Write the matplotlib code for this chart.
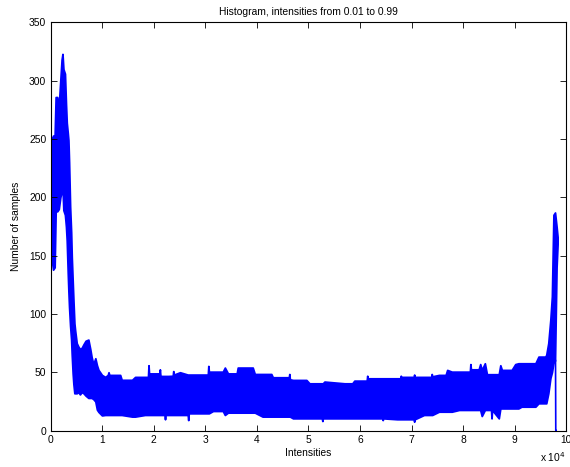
#!/usr/bin/env python3
"""Histogram of intensities (0.01 to 0.99), MATLAB-style dense line plot."""

import matplotlib
matplotlib.use("Agg")
import matplotlib.pyplot as plt

plt.rcParams["font.family"] = ["Liberation Sans", "DejaVu Sans"]

# ---------------------------------------------------------------------------
# Data: envelope of the noisy histogram
# (bin position, lowest count, highest count in the neighbourhood)
# ---------------------------------------------------------------------------

bin_x = [
    0, 250, 500, 800, 1000, 1300, 1600, 1900, 2150, 2320, 2500, 2800,
    3000, 3150, 3350, 3470, 3600, 3800, 4000, 4120, 4300, 4440, 4630,
    4770, 5080, 5400, 5700, 6050, 6400, 6800, 7340, 7700, 7970, 8300,
    8690, 9000, 9300, 9970, 10600, 11100, 11250, 11400, 11900, 13500,
    13800, 15800, 16400, 18300, 18900, 19000, 19100, 19600, 20900, 21100,
    21200, 21300, 21600, 22100, 22200, 22300, 22800, 23700, 23800, 23900,
    25100, 26600, 26700, 26800, 28000, 30500, 30600, 30700, 31500, 33400,
    33800, 34400, 36100, 36300, 39200, 39600, 41100, 42800, 43100, 45800,
    46200, 46300, 46400, 47000, 49600, 50200, 52600, 52700, 52800, 53100,
    57000, 58500, 58900, 60800, 61300, 61400, 61500, 62100, 64300, 64400,
    64500, 67200, 67800, 67900, 68000, 68500, 70400, 70500, 70600, 72400,
    73800, 73900, 74000, 75300, 76600, 76900, 77800, 79200, 80500, 81300,
    81400, 81500, 81700, 83000, 83300, 83600, 84200, 84600, 85400, 85500,
    85600, 86900, 87200, 87500, 89400, 90100, 90700, 91300, 94000, 94600,
    95900, 96100, 96500, 96900, 97200, 97500, 97800, 98100, 98300,
]

bin_lo = [
    150, 146, 138, 140, 188, 188, 190, 200, 205, 209, 189, 185,
    175, 163, 135, 120, 106, 90, 78, 65, 49, 40, 32,
    32, 32, 33, 31, 33, 32, 30, 28, 28, 28, 27,
    25, 18, 16, 13, 13.4, 13.4, 13.4, 13.4, 13.4, 13.4,
    13.4, 12, 12, 13.4, 13.4, 13.4, 13.4, 13.4, 13.4, 13.4,
    13.4, 13.4, 13.4, 13.4, 9.7, 13.4, 13.4, 13.4, 13.4, 13.4,
    13.4, 13.4, 9, 14.8, 14.8, 14.8, 14.8, 14.8, 16.8, 16.8,
    13.4, 15.4, 15.4, 15.4, 15.4, 15.4, 12, 12, 12, 12,
    12, 12, 12, 10.5, 10.5, 10.5, 10.5, 8.2, 10.5, 10.5,
    10.5, 10.5, 10.5, 10.5, 10.5, 10.5, 10.5, 10.5, 10.5, 9,
    10.5, 9.7, 9.7, 9.7, 9.7, 9.7, 9.7, 7.6, 9.7, 13.4,
    13.4, 13.4, 13.4, 16.2, 16.2, 16.2, 16.2, 17.7, 17.7, 17.7,
    17.7, 17.7, 17.7, 17.7, 17.7, 12.5, 17.7, 17.7, 17.7, 10.5,
    17.7, 10.5, 19, 19, 19, 19, 19, 20.5, 20.5, 23.4,
    23.4, 23.4, 32, 45, 50, 58, 60, 140, 160,
]

bin_hi = [
    252, 250, 253, 252, 286, 286, 278, 300, 318, 323, 310, 306,
    280, 264, 255, 249, 230, 192, 170, 149, 128, 112, 92,
    86, 75, 72, 70, 71, 74, 77, 78, 70, 63, 57,
    62, 56, 52, 47.7, 46, 47.7, 50, 47.7, 47.7, 47.7,
    43.5, 43.5, 46, 46, 46, 56, 49, 49, 49, 49,
    52.5, 47, 46.8, 46.8, 46.8, 46.8, 46.8, 47, 51, 48,
    50, 48, 48, 48, 48, 48, 55.4, 50.5, 50.5, 50.5,
    54, 49, 49, 54, 54, 48.5, 48.5, 48.5, 45.7, 45.7,
    45.7, 48.5, 44, 43.4, 43.4, 40.5, 40.5, 40.5, 40.5, 42,
    40.5, 40.5, 42.8, 42.8, 42.8, 47, 44.8, 44.8, 44.8, 44.8,
    44.8, 44.8, 44.8, 47, 46, 46, 46, 48, 46, 46,
    46, 48.5, 46.5, 47.7, 47.7, 52, 50.5, 50.5, 50.5, 50.5,
    57, 52.5, 52.5, 52.5, 57, 52, 57.7, 48.3, 48.3, 48.3,
    48.3, 48.3, 56, 52, 52, 57, 57.7, 57.7, 57.7, 63.4,
    63.4, 64.8, 75, 95, 115, 185, 187, 175, 166,
]

# last bins: a single empty bin right after the bright-end spike
tail_x = [97900, 97950, 98000]
tail_y = [60, 0, 0]

x_ticks = [0, 10000, 20000, 30000, 40000, 50000, 60000, 70000, 80000, 90000, 100000]
x_tick_labels = ["0", "1", "2", "3", "4", "5", "6", "7", "8", "9", "10"]
y_ticks = [0, 50, 100, 150, 200, 250, 300, 350]

# ---------------------------------------------------------------------------
# Plot
# ---------------------------------------------------------------------------

BLUE = "#0000ff"
FS = 7.4

fig = plt.figure(figsize=(5.70, 4.67), dpi=100)
ax = fig.add_axes([0.0886, 0.078, 0.905, 0.874])

ax.fill_between(bin_x, bin_lo, bin_hi, color=BLUE, edgecolor=BLUE, linewidth=1.3)
ax.plot(tail_x, tail_y, color=BLUE, linewidth=1.2)

ax.set_xlim(0, 100000)
ax.set_ylim(0, 350)
ax.set_xticks(x_ticks)
ax.set_xticklabels(x_tick_labels)
ax.set_yticks(y_ticks)

ax.tick_params(direction="in", top=True, right=True, length=4, width=0.6,
               labelsize=FS, pad=3)
for sp in ax.spines.values():
    sp.set_linewidth(0.8)

ax.set_title("Histogram, intensities from 0.01 to 0.99", fontsize=FS, pad=5)
ax.set_xlabel("Intensities", fontsize=FS, labelpad=2)
ax.set_ylabel("Number of samples", fontsize=FS, labelpad=6)

fig.text(0.947, 0.006, r"x 10$^{4}$", fontsize=FS, ha="left", va="bottom")

fig.savefig("out.png", dpi=100, facecolor="white")
